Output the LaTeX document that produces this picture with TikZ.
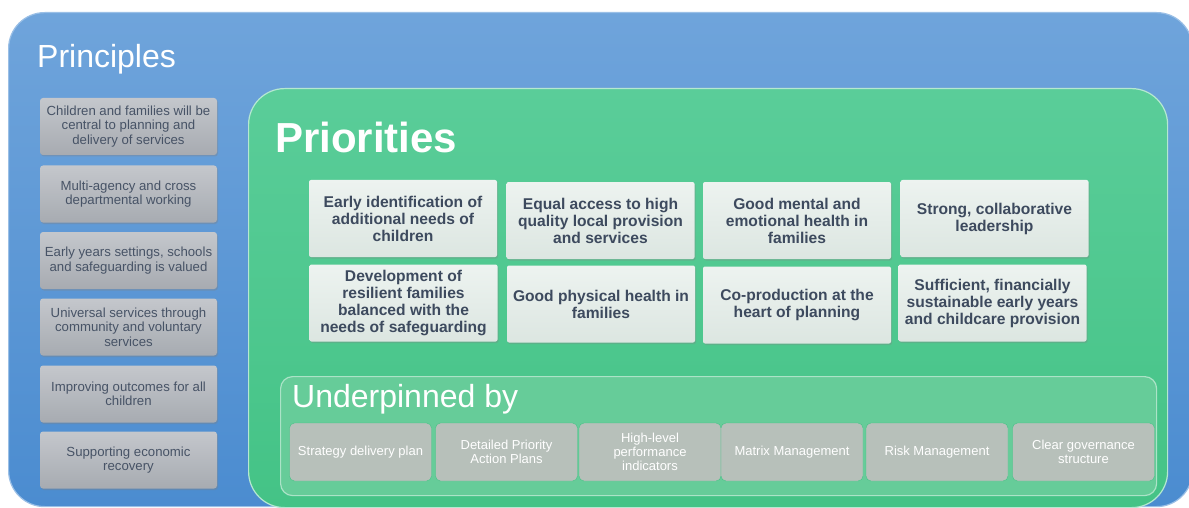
\documentclass[tikz,border=0pt]{standalone}
\usepackage{fontspec}
\setmainfont{Liberation Sans}
\usetikzlibrary{shadows}
\definecolor{panelBlue}{HTML}{6FA4DB}
\definecolor{panelBlueDark}{HTML}{4B8CD0}
\definecolor{panelGreen}{HTML}{5ACD99}
\definecolor{panelGreenDark}{HTML}{44C386}
\definecolor{baseGreen}{HTML}{66CC99}
\definecolor{tileGrey}{HTML}{C4C7CC}
\definecolor{tileGreyDark}{HTML}{A7ABB1}
\definecolor{tileLight}{HTML}{EDF3F0}
\definecolor{tileLightDark}{HTML}{DCE6E1}
\definecolor{tileBase}{HTML}{B7C0BA}
\definecolor{tileText}{HTML}{3D4A5E}

\begin{document}
\begin{tikzpicture}
[x=1pt, y=-1pt,
 every node/.style={align=center, inner sep=0pt},
 panel/.style={anchor=north west, rounded corners=36pt, line width=1.2pt},
 title/.style={anchor=base west, text=white},
 principle/.style={rounded corners=3pt, minimum width=177pt, minimum height=57pt,
   top color=tileGrey, bottom color=tileGreyDark, text=tileText!95!white,
   font=\fontsize{13.2}{14.5}\selectfont,
   drop shadow={shadow xshift=1pt, shadow yshift=-1.5pt, opacity=0.35}},
 priority/.style={rounded corners=2pt, minimum width=188pt, minimum height=77pt,
   top color=tileLight, bottom color=tileLightDark, text=tileText,
   font=\fontsize{15.6}{17}\selectfont\bfseries,
   drop shadow={shadow xshift=1pt, shadow yshift=-1.5pt, opacity=0.3}},
 support/.style={draw=panelGreenDark, rounded corners=5pt, minimum width=142pt,
   minimum height=58pt, fill=tileBase, text=white,
   font=\fontsize{13}{14}\selectfont}
]
\useasboundingbox (0,0) rectangle (1189,508);
\node[panel, minimum width=1184pt, minimum height=494pt, top color=panelBlue,
  bottom color=panelBlueDark, draw=panelBlue!70!white] (Pnl) at (8,12) {};
\node[title, font=\fontsize{32}{36}\selectfont] (PnlT) at (37,68) {Principles};
\node[principle] (Pr1) at (128.5,126.5) {Children and families will be\\ central to planning and\\ delivery of services};
\node[principle] (Pr2) at (128.5,194)   {Multi-agency and cross\\ departmental working};
\node[principle] (Pr3) at (128.5,260.5) {Early years settings, schools\\ and safeguarding is valued};
\node[principle] (Pr4) at (128.5,327)   {Universal services through\\ community and voluntary\\ services};
\node[principle] (Pr5) at (128.5,394)   {Improving outcomes for all\\ children};
\node[principle] (Pr6) at (128.5,460)   {Supporting economic\\ recovery};
\node[panel, minimum width=919pt, minimum height=419pt, top color=panelGreen,
  bottom color=panelGreenDark, draw=panelGreen!45!white] (Pri) at (248,88) {};
\node[title, font=\fontsize{42}{46}\selectfont\bfseries] (PriT) at (275,153) {Priorities};
\node[priority] (Q1) at (403,218.5)   {Early identification of\\ additional needs of\\ children};
\node[priority] (Q2) at (600.5,220.5) {Equal access to high\\ quality local provision\\ and services};
\node[priority] (Q3) at (797,220.5)   {Good mental and\\ emotional health in\\ families};
\node[priority] (Q4) at (994.5,218.5) {Strong, collaborative\\ leadership};
\node[priority] (Q5) at (403.5,303)   {Development of\\ resilient families\\ balanced with the\\ needs of safeguarding};
\node[priority] (Q6) at (601,304)     {Good physical health in\\ families};
\node[priority] (Q7) at (797,305)     {Co-production at the\\ heart of planning};
\node[priority] (Q8) at (992.5,303)   {Sufficient, financially\\ sustainable early years\\ and childcare provision};
\node[panel, rounded corners=12pt, minimum width=876pt, minimum height=119pt,
  fill=baseGreen, draw=baseGreen!55!white] (Und) at (280,376) {};
\node[title, font=\fontsize{32}{36}\selectfont] (UndT) at (292,407) {Underpinned by};
\node[support] (U1) at (360.5,452) {Strategy delivery plan};
\node[support] (U2) at (506.5,452) {Detailed Priority\\ Action Plans};
\node[support] (U3) at (650,452)   {High-level\\ performance\\ indicators};
\node[support] (U4) at (792,452)   {Matrix Management};
\node[support] (U5) at (937,452)   {Risk Management};
\node[support] (U6) at (1083.5,452) {Clear governance\\ structure};
\end{tikzpicture}
\end{document}
